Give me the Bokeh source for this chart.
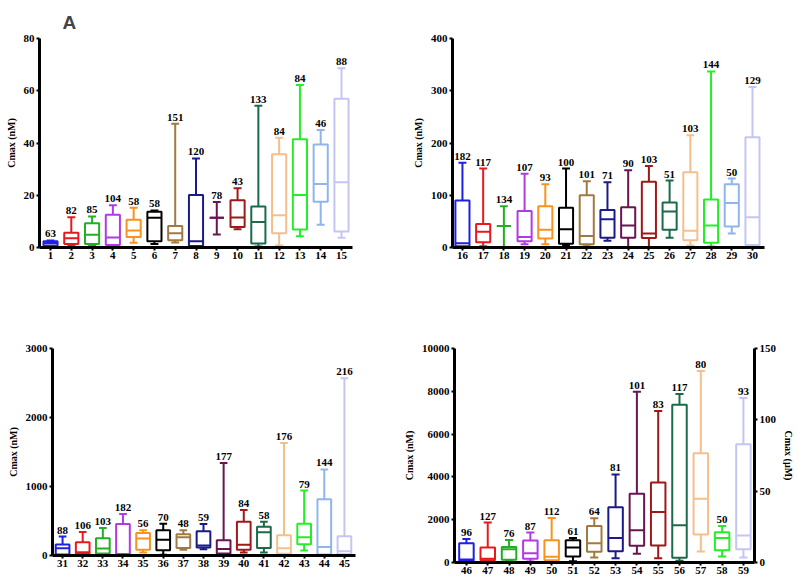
from bokeh.plotting import figure
from bokeh.layouts import column, row
from bokeh.models import ColumnDataSource, FixedTicker, Range1d, LinearAxis, Title
from bokeh.core.properties import value
from bokeh.transform import dodge
from bokeh.embed import file_html
from bokeh.resources import INLINE

# colour sequence used in every panel
colors15 = ["#1f1fe6", "#e8191e", "#22b022", "#b03be6", "#f7931e", "#000000",
            "#a07a40", "#1a1a88", "#6a1450", "#a01818", "#1b6a4a", "#f5bf8c",
            "#26ee26", "#8fb5ec", "#c5c5f5"]
colors14 = colors15[:13] + [colors15[14]]

# ---- panel 1 : compounds 1-15 ----
cats1 = list(range(1, 16))
lo1 = [0.5, 0.9, 0.8, 0.8, 1.8, 1.3, 1.9, 0.4, 5.0, 7.0, 0.4, 0.8, 4.3, 8.7, 3.7]
q1_1 = [0.8, 1.3, 1.3, 1.0, 4.0, 2.4, 2.8, 0.6, 11.4, 7.8, 1.5, 5.5, 6.9, 17.5, 6.1]
med1 = [1.7, 3.5, 4.9, 3.8, 6.5, 11.4, 5.5, 2.4, 11.4, 11.5, 9.8, 12.3, 20.1, 24.3, 25.0]
q3_1 = [2.4, 5.6, 9.3, 12.5, 10.6, 13.7, 8.2, 20.1, 11.4, 18.1, 15.7, 35.7, 41.4, 39.4, 56.9]
hi1 = [2.7, 11.6, 11.9, 16.2, 15.2, 14.2, 47.4, 34.1, 17.4, 22.7, 54.3, 42.0, 62.2, 45.0, 68.6]
n1 = [63, 82, 85, 104, 58, 58, 151, 120, 78, 43, 133, 84, 84, 46, 88]

# ---- panel 2 : compounds 16-30 ----
cats2 = list(range(16, 31))
lo2 = [1, 2.6, 1, 6, 6, 5, 2.6, 13, 0.6, 0.6, 18.5, 4, 2, 27, 2.6]
q1_2 = [2.6, 10, 41, 12, 17, 7, 6, 18.5, 18.5, 18, 34, 14, 9, 40, 5]
med2 = [8.3, 30, 41, 20, 34, 35, 22, 54, 42, 27, 69, 32, 42, 85, 58]
q3_2 = [90, 45, 41, 70, 79, 76, 100, 72, 77, 126, 86, 144, 92, 121, 211]
hi2 = [162, 151, 79, 141, 121, 151, 127, 125, 148, 156, 128, 215, 337, 132, 307]
n2 = [182, 117, 134, 107, 93, 100, 101, 71, 90, 103, 51, 103, 144, 50, 129]

# ---- panel 3 : compounds 31-45 ----
cats3 = list(range(31, 46))
lo3 = [5, 10, 5, 5, 43, 10, 82, 91, 10, 43, 43, 10, 72, 5, 10]
q1_3 = [14, 24, 29, 10, 82, 77, 110, 115, 29, 82, 110, 24, 163, 14, 19]
med3 = [106, 48, 101, 20, 245, 230, 264, 144, 96, 154, 336, 106, 264, 125, 62]
q3_3 = [158, 192, 250, 456, 326, 365, 307, 350, 221, 490, 418, 293, 461, 816, 278]
hi3 = [274, 341, 398, 600, 365, 461, 365, 456, 1339, 658, 490, 1632, 941, 1248, 2568]
n3 = [88, 106, 103, 182, 56, 70, 48, 59, 177, 84, 58, 176, 79, 144, 216]

# ---- panel 4 : compounds 46-59 ----
cats4 = list(range(46, 60))
lo4 = [62, 78, 78, 47, 47, 62, 233, 202, 404, 202, 78, 512, 280, 233]
q1_4 = [80, 110, 124, 171, 109, 280, 497, 528, 777, 792, 217, 1305, 575, 621]
med4 = [140, 180, 621, 435, 264, 699, 901, 1149, 1506, 2361, 1739, 2982, 1149, 1258]
q3_4 = [901, 699, 730, 1025, 1041, 1041, 1708, 2578, 3215, 3743, 7377, 5109, 1413, 5529]
hi4 = [1103, 1864, 1056, 1398, 2081, 1149, 2065, 4115, 7982, 7082, 7874, 8945, 1708, 7687]
n4 = [96, 127, 76, 87, 112, 61, 64, 81, 101, 83, 117, 80, 50, 93]

yticks1 = [0, 20, 40, 60, 80]
yticks2 = [0, 100, 200, 300, 400]
yticks3 = [0, 1000, 2000, 3000]
yticks4 = [0, 2000, 4000, 6000, 8000, 10000]
yticks4r = [0, 50, 100, 150]

SERIF = "Liberation Serif"


def style_axis(ax, fs="11px"):
    ax.axis_line_width = 3
    ax.axis_line_color = "black"
    ax.major_tick_line_width = 2
    ax.major_tick_out = 3
    ax.major_tick_in = 0
    ax.minor_tick_line_color = None
    ax.major_label_text_font = SERIF
    ax.major_label_text_font_style = "bold"
    ax.major_label_text_font_size = fs
    ax.major_label_text_color = "black"
    ax.major_label_standoff = 2
    ax.axis_label_text_font = SERIF
    ax.axis_label_text_font_style = "bold"
    ax.axis_label_text_font_size = "10px"
    ax.axis_label_text_color = "black"
    ax.axis_label_standoff = 4


def panel(cats, lo, q1, med, q3, hi, n, colors, xr, ymax, yticks,
          width, height, bl, br, bt, bb):
    p = figure(width=width, height=height, x_range=Range1d(*xr),
               y_range=Range1d(0, ymax), output_backend="svg",
               toolbar_location=None, min_border_left=bl, min_border_right=br,
               min_border_top=bt, min_border_bottom=bb)
    p.outline_line_color = None
    p.xgrid.visible = False
    p.ygrid.visible = False
    p.background_fill_color = "white"
    src = ColumnDataSource(dict(x=cats, lo=lo, q1=q1, med=med, q3=q3, hi=hi,
                                color=colors, label=[str(v) for v in n]))
    lw = 2
    p.segment(x0="x", y0="lo", x1="x", y1="q1", source=src, line_color="color", line_width=lw)
    p.segment(x0="x", y0="q3", x1="x", y1="hi", source=src, line_color="color", line_width=lw)
    p.segment(x0=dodge("x", -0.19), y0="lo", x1=dodge("x", 0.19), y1="lo", source=src,
              line_color="color", line_width=lw)
    p.segment(x0=dodge("x", -0.19), y0="hi", x1=dodge("x", 0.19), y1="hi", source=src,
              line_color="color", line_width=lw)
    p.vbar(x="x", width=0.68, bottom="q1", top="q3", source=src, fill_color="white",
           line_color="color", line_width=lw)
    p.segment(x0=dodge("x", -0.34), y0="med", x1=dodge("x", 0.34), y1="med", source=src,
              line_color="color", line_width=lw)
    p.text(x="x", y="hi", text="label", source=src, text_align="center",
           text_baseline="bottom", y_offset=-3, text_font=value(SERIF),
           text_font_style="bold", text_font_size="11px", text_color="black")
    p.xaxis.ticker = FixedTicker(ticks=cats)
    p.yaxis.ticker = FixedTicker(ticks=yticks)
    style_axis(p.xaxis[0])
    style_axis(p.yaxis[0])
    p.xaxis.axis_label_standoff = 0
    p.xaxis.major_label_standoff = 1
    p.yaxis.axis_label = "Cmax (nM)"
    return p


p1 = panel(cats1, lo1, q1_1, med1, q3_1, hi1, n1, colors15, (0.47, 15.53), 80, yticks1,
           400, 295, 39, 48, 38, 48)
p1.add_layout(Title(text="A", align="left", offset=23, text_font_size="19px",
                    text_font="Liberation Sans", text_font_style="bold", standoff=12), "above")

p2 = panel(cats2, lo2, q1_2, med2, q3_2, hi2, n2, colors15, (15.52, 30.58), 400, yticks2,
           397, 295, 52, 33, 38, 48)

p3 = panel(cats3, lo3, q1_3, med3, q3_3, hi3, n3, colors15, (30.5, 45.55), 3000, yticks3,
           400, 290, 52, 45, 53, 30)

p4 = panel(cats4, lo4, q1_4, med4, q3_4, hi4, n4, colors14, (45.44, 59.52), 10000, yticks4,
           397, 290, 54, 43, 53, 23)
p4.extra_y_ranges = {"um": Range1d(0, 150)}
rax = LinearAxis(y_range_name="um", ticker=FixedTicker(ticks=yticks4r),
                 axis_label="Cmax (µM)")
style_axis(rax)
p4.add_layout(rax, "right")

layout = column(row(column(p1), column(p2)), row(column(p3), column(p4)))

open("out.html", "w").write(file_html(layout, INLINE))
